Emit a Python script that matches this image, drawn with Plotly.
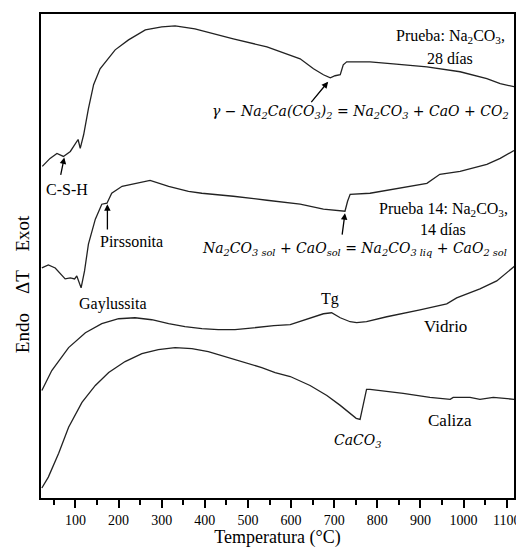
import plotly.graph_objects as go

# DTA curves (temperature in °C, ΔT in arbitrary units)
t_28d = [23, 41, 57, 72, 88, 99, 106, 111, 119, 130, 142, 157, 173, 192, 223, 262, 300, 331, 377,
         412, 466, 544, 621, 652, 675, 691, 702, 714, 721, 729, 783, 837, 915, 992, 1054, 1085, 1117]
dt_28d = [333, 341, 346, 343, 348, 355, 360, 351, 365, 391, 415, 431, 440, 450, 460, 470, 473, 474, 471,
          467, 461, 453, 441, 431, 425, 422, 424, 425, 435, 438, 438, 436, 433, 428, 421, 416, 413]

t_14d = [22, 37, 53, 65, 76, 88, 98, 103, 113, 121, 130, 146, 161, 173, 184, 208, 238, 273, 316, 362,
         393, 466, 544, 621, 675, 698, 714, 725, 731, 737, 783, 837, 915, 945, 992, 1054, 1085, 1117]
dt_14d = [231, 234, 231, 225, 220, 221, 220, 223, 211, 228, 255, 280, 295, 296, 306, 313, 316, 319, 313, 308,
          306, 303, 299, 295, 290, 289, 289, 288, 298, 305, 306, 310, 316, 325, 328, 335, 341, 349]

t_vidrio = [22, 45, 84, 123, 161, 200, 238, 277, 316, 354, 393, 431, 470, 509, 560, 598, 644, 675, 694,
            714, 737, 752, 775, 822, 899, 961, 984, 1038, 1077, 1100, 1119]
dt_vidrio = [108, 128, 151, 166, 175, 180, 181, 179, 175, 172, 170, 169, 169, 171, 173, 174, 181, 185, 186,
             181, 177, 176, 177, 182, 189, 195, 201, 210, 218, 226, 233]

t_caliza = [22, 37, 61, 84, 115, 146, 177, 215, 254, 292, 331, 370, 408, 447, 486, 532, 563, 598, 644,
            683, 714, 737, 751, 760, 768, 775, 783, 860, 922, 969, 976, 1015, 1038, 1069, 1119]
dt_caliza = [10, 21, 45, 71, 96, 113, 126, 137, 145, 149, 151, 150, 147, 142, 137, 131, 126, 122, 113,
             103, 93, 85, 80, 79, 95, 109, 109, 105, 101, 99, 101, 101, 99, 101, 99]

serif = "Liberation Serif"
math = "DejaVu Serif"

fig = go.Figure()
for t, dt in [(t_28d, dt_28d), (t_14d, dt_14d), (t_vidrio, dt_vidrio), (t_caliza, dt_caliza)]:
    fig.add_trace(go.Scatter(x=t, y=dt, mode='lines', line=dict(color='#222222', width=1.3),
                             showlegend=False, hoverinfo='skip'))

# plain labels
labels = [
    ("Prueba: Na<sub>2</sub>CO<sub>3</sub>,", 969, 463, 16),
    ("28 días", 969, 441, 16),
    ("C-S-H", 81, 310, 16),
    ("Pirssonita", 229, 258, 16),
    ("Prueba 14: Na<sub>2</sub>CO<sub>3</sub>,", 953, 290, 16),
    ("14 días", 953, 270, 16),
    ("Gaylussita", 188, 195, 16),
    ("Tg", 690, 200, 16),
    ("Vidrio", 959, 172, 17),
    ("Caliza", 968, 78, 17),
]
for txt, x, y, sz in labels:
    fig.add_annotation(x=x, y=y, text=txt, showarrow=False,
                       font=dict(family=serif, size=sz, color='black'))

# reaction labels in italic
eqs = [
    ("γ − Na<sub>2</sub>Ca(CO<sub>3</sub>)<sub>2</sub> = Na<sub>2</sub>CO<sub>3</sub> + CaO + CO<sub>2</sub>", 760, 388),
    ("Na<sub>2</sub>CO<sub>3 sol</sub> + CaO<sub>sol</sub> = Na<sub>2</sub>CO<sub>3 liq</sub> + CaO<sub>2 sol</sub>", 747, 250),
    ("CaCO<sub>3</sub>", 755, 57),
]
for txt, x, y in eqs:
    fig.add_annotation(x=x, y=y, text="<i>" + txt + "</i>", showarrow=False,
                       font=dict(family=math, size=14, color='black'))

# arrows pointing at the thermal events
arrows = [(686, 418, 644, 396), (74, 342, 65, 323), (174, 295, 174, 268), (725, 286, 718, 263)]
for x, y, ax, ay in arrows:
    fig.add_annotation(x=x, y=y, ax=ax, ay=ay, axref='x', ayref='y', text='', showarrow=True,
                       arrowhead=2, arrowsize=1, arrowwidth=1.3, arrowcolor='black')

fig.add_annotation(xref='paper', yref='paper', x=-0.04, y=0.442, xanchor='center', yanchor='middle',
                   text="Endo    ΔT    Exot", textangle=-90, showarrow=False,
                   font=dict(family=serif, size=19, color='black'))

fig.update_layout(width=516, height=540, paper_bgcolor='white', plot_bgcolor='white',
                  margin=dict(l=33, r=10, t=4, b=50),
                  font=dict(family=serif, size=14, color='black'))
fig.update_xaxes(range=[20, 1117], tick0=0, dtick=100, ticks='outside', ticklen=8, tickwidth=1.5,
                 tickcolor='black', showgrid=False, zeroline=False,
                 showline=True, linewidth=2, linecolor='black', mirror=True,
                 minor=dict(ticks='outside', ticklen=5, dtick=50, tick0=50, tickcolor='black', tickwidth=1.5),
                 title=dict(text="Temperatura (°C)", font=dict(size=18), standoff=1),
                 tickfont=dict(size=14))
fig.update_yaxes(range=[0, 486], showticklabels=False, ticks='', showgrid=False, zeroline=False,
                 showline=True, linewidth=2, linecolor='black', mirror=True)

fig.write_html("out.html")
